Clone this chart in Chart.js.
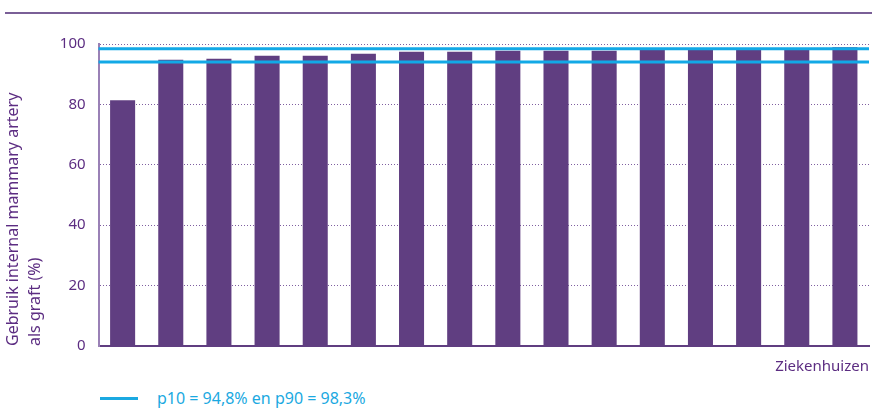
<!DOCTYPE html>
<html>
<head>
<meta charset="utf-8">
<script src="https://cdn.jsdelivr.net/npm/chart.js@4/dist/chart.umd.min.js"></script>
<style>
  body { margin: 0; background: #fff; font-family: "Noto Sans", sans-serif; }
  #wrap { position: relative; width: 872px; height: 408px; overflow: hidden; }
  #topline { position: absolute; left: 5px; top: 12px; width: 867px; height: 2px; background: #7a5f97; }
  #legend { position: absolute; left: 100px; top: 387px; color: #1ba9e1; font-size: 16px; }
  #legend span.swatch { position: absolute; left: 0; top: 10px; width: 38px; height: 3px; background: #1ba9e1; }
  #legend span.txt { position: absolute; left: 57px; top: 0; white-space: nowrap; }
</style>
</head>
<body>
<div id="wrap">
  <div id="topline"></div>
  <canvas id="chart" width="872" height="376"></canvas>
  <div id="legend"><span class="swatch"></span><span class="txt">p10 = 94,8% en p90 = 98,3%</span></div>
</div>
<script>
// ============================= DADOS =============================
const ziekenhuizen = ['1','2','3','4','5','6','7','8','9','10','11','12','13','14','15','16']
const gebruikIMA = [81.4, 94.8, 95.1, 96.1, 96.1, 96.8, 97.4, 97.4, 97.8, 97.8, 97.8, 98.2, 98.2, 98.2, 98.2, 98.9]
const p10 = 94.0
const p90 = 98.4
const yTicks = [0, 20, 40, 60, 80, 100]

const paars = '#603e81'
const blauw = '#12a9e6'

// lijnen p10 en p90 over de hele breedte
const refLines = {
    id: 'refLines',
    afterDatasetsDraw(chart){
        const ctx = chart.ctx, area = chart.chartArea, y = chart.scales.y
        ctx.save()
        ctx.strokeStyle = blauw
        ctx.lineWidth = 3
        ;[p10, p90].forEach(v => {
            const py = y.getPixelForValue(v)
            ctx.beginPath()
            ctx.moveTo(area.left, py)
            ctx.lineTo(area.right, py)
            ctx.stroke()
        })
        ctx.restore()
    }
}

new Chart(document.getElementById('chart'), {
    type: 'bar',
    data: {
        labels: ziekenhuizen,
        datasets: [{
            data: gebruikIMA,
            backgroundColor: paars,
            categoryPercentage: 1,
            barPercentage: 0.52
        }]
    },
    options: {
        responsive: false,
        animation: false,
        layout: { padding: { left: 2, right: 3, top: 44, bottom: 0 } },
        plugins: { legend: { display: false }, tooltip: { enabled: false } },
        scales: {
            x: {
                grid: { display: false, drawTicks: false },
                border: { color: paars, width: 2 },
                ticks: { display: false },
                title: {
                    display: true, text: 'Ziekenhuizen', align: 'end',
                    color: '#5c2d82', font: { family: 'Noto Sans', size: 15 },
                    padding: { top: 12, bottom: 0 }
                }
            },
            y: {
                min: 0, max: 100,
                afterBuildTicks: axis => { axis.ticks = yTicks.map(v => ({ value: v })) },
                grid: { color: '#7f5fa0', lineWidth: 1, drawTicks: false },
                border: { color: '#9a81b6', width: 2, dash: [1, 2] },
                ticks: { color: '#5c2d82', font: { family: 'Noto Sans', size: 15 }, padding: 13 },
                title: {
                    display: true, align: 'start',
                    text: ['Gebruik internal mammary artery', 'als graft (%)'],
                    color: '#5c2d82', font: { family: 'Noto Sans', size: 16, lineHeight: 1.4 },
                    padding: { top: 0, bottom: 0 }
                }
            }
        }
    },
    plugins: [refLines]
})
</script>
</body>
</html>
